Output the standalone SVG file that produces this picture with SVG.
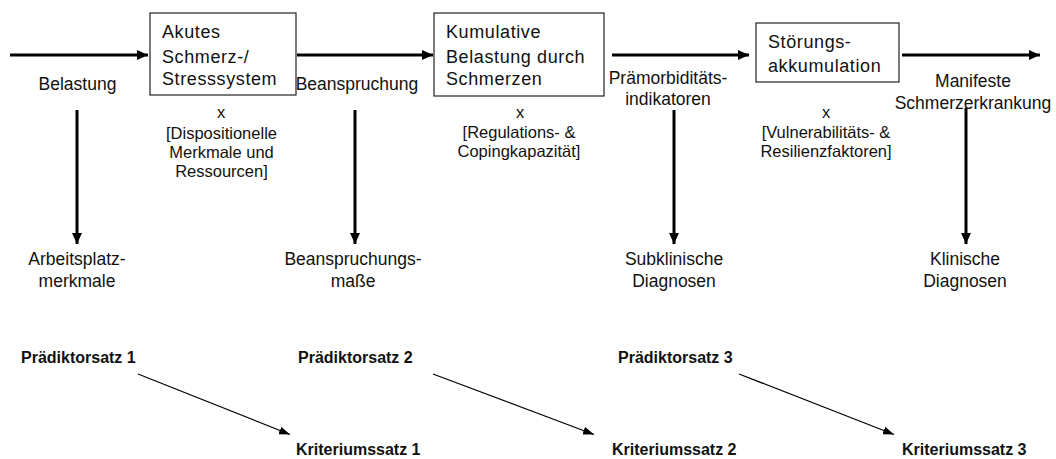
<svg xmlns="http://www.w3.org/2000/svg" width="1056" height="459" viewBox="0 0 1056 459">
<style>
text{font-family:"Liberation Sans",Arial,sans-serif;fill:#111}
.bx{font-size:18px;letter-spacing:0.6px}
.t{font-size:17.5px;text-anchor:middle}
.s{font-size:16.5px;text-anchor:middle}
.b{font-size:16px;font-weight:bold}
rect{fill:#fff;stroke:#222;stroke-width:1.2}
.thick{stroke:#000;stroke-width:3;fill:none}
.thin{stroke:#000;stroke-width:1.2;fill:none}
</style>
<defs>
<marker id="ah" markerUnits="userSpaceOnUse" markerWidth="11" markerHeight="10" refX="11" refY="5" orient="auto"><path d="M0,0 L11,5 L0,10 z" fill="#000"/></marker>
<marker id="at" markerUnits="userSpaceOnUse" markerWidth="11" markerHeight="8" refX="11" refY="4" orient="auto"><path d="M0,0 L11,4 L0,8 z" fill="#000"/></marker>
</defs>
<g id="connectors">
<line class="thick" x1="10" y1="55" x2="148" y2="55" marker-end="url(#ah)"/>
<line class="thick" x1="297" y1="55" x2="433" y2="55" marker-end="url(#ah)"/>
<line class="thick" x1="612" y1="55" x2="749" y2="55" marker-end="url(#ah)"/>
<line class="thick" x1="902" y1="55" x2="1040" y2="55" marker-end="url(#ah)"/>
<line class="thick" x1="77" y1="110" x2="77" y2="244" marker-end="url(#ah)"/>
<line class="thick" x1="355" y1="110" x2="355" y2="244" marker-end="url(#ah)"/>
<line class="thick" x1="674" y1="110" x2="674" y2="244" marker-end="url(#ah)"/>
<line class="thick" x1="966" y1="108" x2="966" y2="244" marker-end="url(#ah)"/>
<line class="thin" x1="138" y1="374" x2="290" y2="434.5" marker-end="url(#at)"/>
<line class="thin" x1="433" y1="374" x2="594" y2="434.5" marker-end="url(#at)"/>
<line class="thin" x1="739" y1="374" x2="894" y2="434.5" marker-end="url(#at)"/>
</g>
<g id="box1">
<rect x="150" y="13" width="146" height="82"/>
<text class="bx" x="162" y="37.5">Akutes</text>
<text class="bx" x="162" y="62.5">Schmerz-/</text>
<text class="bx" x="162" y="85">Stresssystem</text>
</g>
<g id="box2">
<rect x="434" y="13" width="170" height="83"/>
<text class="bx" x="446" y="37.5">Kumulative</text>
<text class="bx" x="446" y="62.5">Belastung durch</text>
<text class="bx" x="446" y="85">Schmerzen</text>
</g>
<g id="box3">
<rect x="756" y="23" width="143" height="59"/>
<text class="bx" x="768" y="48">Störungs-</text>
<text class="bx" x="768" y="72">akkumulation</text>
</g>
<g id="lbl-belastung"><text class="t" x="77.5" y="90">Belastung</text></g>
<g id="lbl-beanspruchung"><text class="t" x="357" y="90">Beanspruchung</text></g>
<g id="lbl-praemorb"><text class="t" x="668" y="83.5">Prämorbiditäts-</text><text class="t" x="668" y="105">indikatoren</text></g>
<g id="lbl-manifeste"><text class="t" x="973" y="87">Manifeste</text><text class="t" x="973" y="108.5">Schmerzerkrankung</text></g>
<g id="mod1"><text class="s" x="221" y="118">x</text><text class="s" x="221.5" y="139">[Dispositionelle</text><text class="s" x="221.5" y="158">Merkmale und</text><text class="s" x="221.5" y="177">Ressourcen]</text></g>
<g id="mod2"><text class="s" x="520" y="118">x</text><text class="s" x="519" y="137.5">[Regulations- &amp;</text><text class="s" x="519" y="157">Copingkapazität]</text></g>
<g id="mod3"><text class="s" x="826" y="118">x</text><text class="s" x="826" y="137.5">[Vulnerabilitäts- &amp;</text><text class="s" x="826" y="157">Resilienzfaktoren]</text></g>
<g id="out1"><text class="t" x="77" y="265">Arbeitsplatz-</text><text class="t" x="77" y="287">merkmale</text></g>
<g id="out2"><text class="t" x="353" y="265">Beanspruchungs-</text><text class="t" x="353" y="287">maße</text></g>
<g id="out3"><text class="t" x="674" y="265">Subklinische</text><text class="t" x="674" y="287">Diagnosen</text></g>
<g id="out4"><text class="t" x="965" y="265">Klinische</text><text class="t" x="965" y="287">Diagnosen</text></g>
<g id="pred1"><text class="b" x="21" y="362.5">Prädiktorsatz 1</text></g>
<g id="pred2"><text class="b" x="298" y="362.5">Prädiktorsatz 2</text></g>
<g id="pred3"><text class="b" x="618" y="362.5">Prädiktorsatz 3</text></g>
<g id="krit1"><text class="b" x="296" y="455">Kriteriumssatz 1</text></g>
<g id="krit2"><text class="b" x="612" y="455">Kriteriumssatz 2</text></g>
<g id="krit3"><text class="b" x="902" y="455">Kriteriumssatz 3</text></g>
</svg>
